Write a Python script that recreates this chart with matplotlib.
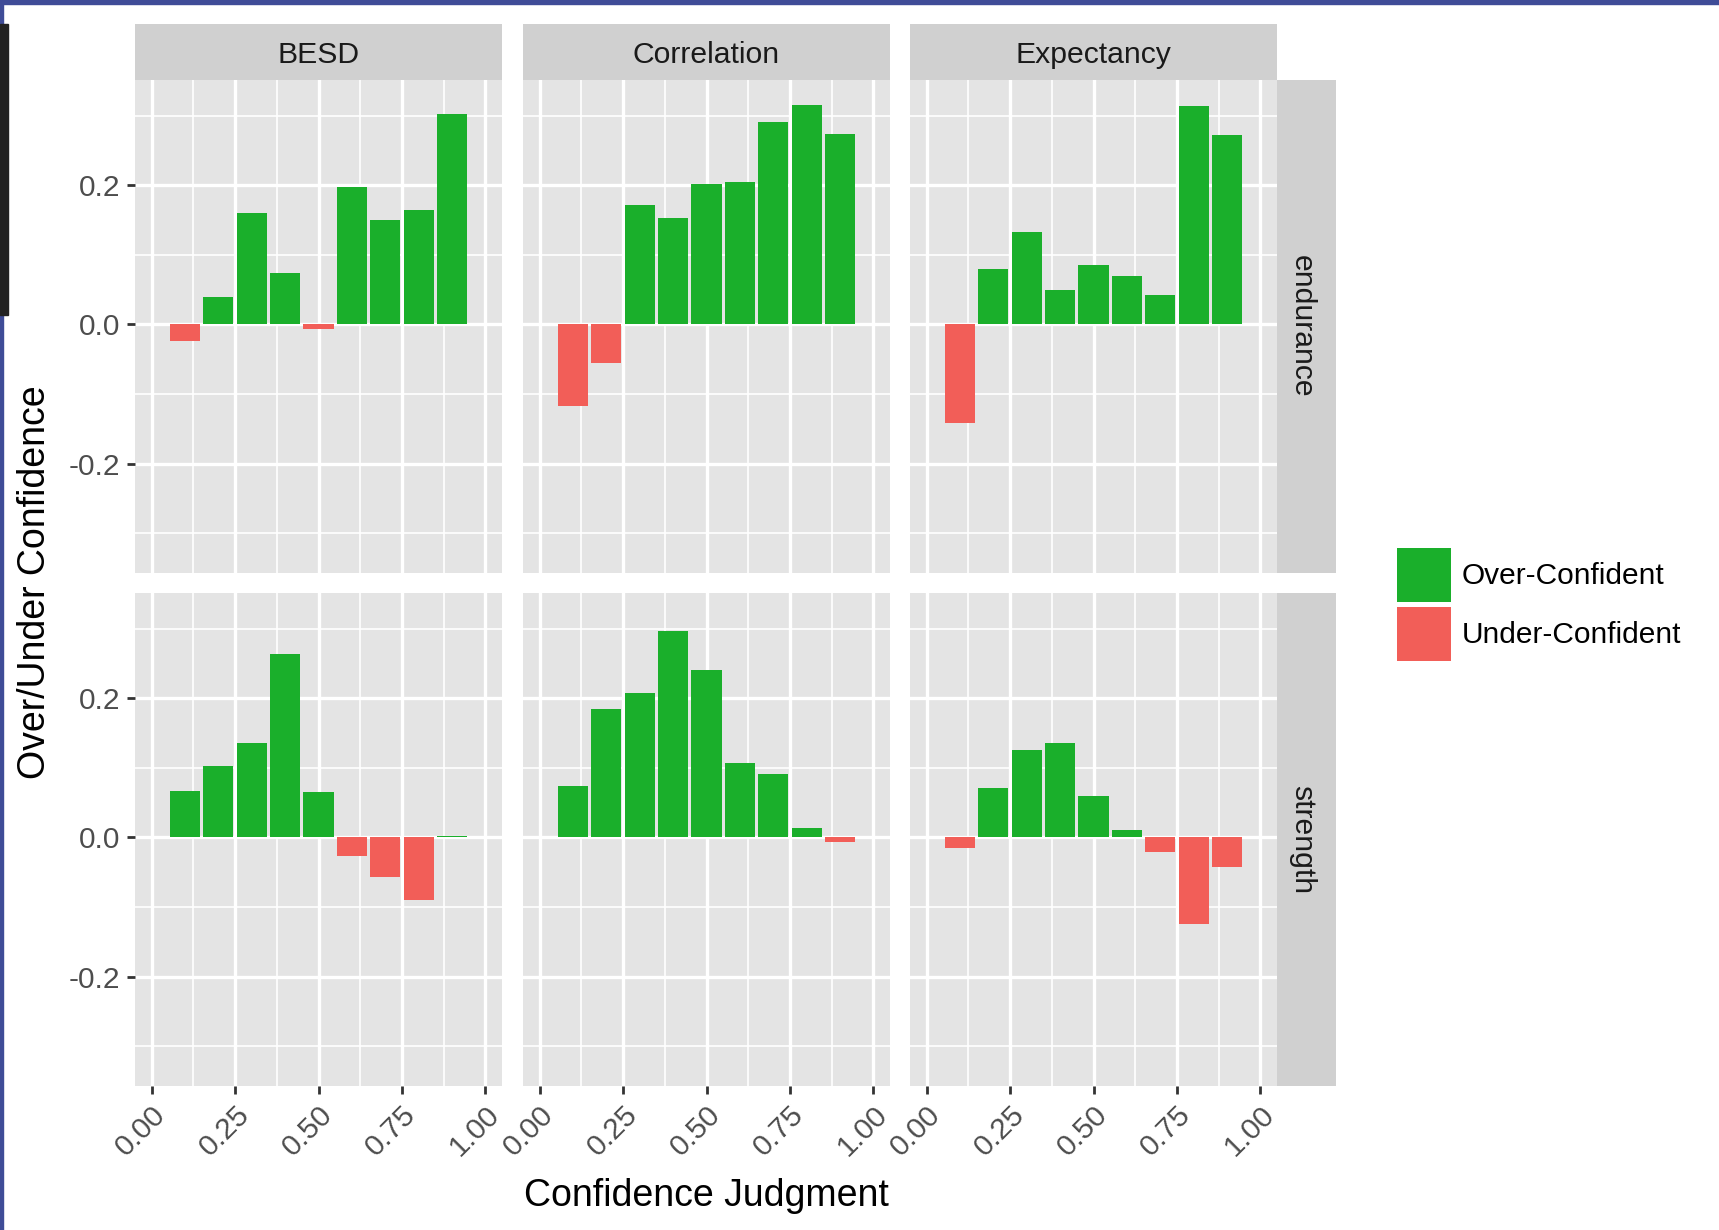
import matplotlib.pyplot as plt
from matplotlib.patches import Patch, Rectangle

plt.rcParams['font.family'] = ['Liberation Sans', 'DejaVu Sans']

bins = [0.1, 0.2, 0.3, 0.4, 0.5, 0.6, 0.7, 0.8, 0.9]
methods = ['BESD', 'Correlation', 'Expectancy']
tasks = ['endurance', 'strength']

besd_endurance = [-0.024, 0.040, 0.160, 0.074, -0.006, 0.198, 0.150, 0.165, 0.302]
corr_endurance = [-0.117, -0.055, 0.172, 0.153, 0.202, 0.205, 0.290, 0.315, 0.274]
expt_endurance = [-0.141, 0.080, 0.133, 0.049, 0.086, 0.069, 0.042, 0.314, 0.272]
besd_strength = [0.066, 0.103, 0.136, 0.263, 0.065, -0.027, -0.057, -0.090, 0.002]
corr_strength = [0.074, 0.185, 0.207, 0.297, 0.240, 0.107, 0.091, 0.014, -0.006]
expt_strength = [-0.015, 0.071, 0.126, 0.135, 0.059, 0.011, -0.021, -0.124, -0.042]

values = {
    ('endurance', 'BESD'): besd_endurance,
    ('endurance', 'Correlation'): corr_endurance,
    ('endurance', 'Expectancy'): expt_endurance,
    ('strength', 'BESD'): besd_strength,
    ('strength', 'Correlation'): corr_strength,
    ('strength', 'Expectancy'): expt_strength,
}

green = '#1AAF2B'
red = '#F25E58'
panel_bg = '#E4E4E4'
strip_bg = '#D0D0D0'
W, H = 1719, 1230

fig = plt.figure(figsize=(W / 100, H / 100), dpi=100)

# screenshot frame remnants
fig.patches.append(Rectangle((0, 1 - 4 / H), 1, 4 / H, transform=fig.transFigure, color='#3F4C97'))
fig.patches.append(Rectangle((0, 0), 3 / W, 1, transform=fig.transFigure, color='#3F4C97'))
fig.patches.append(Rectangle((0, 1 - 315 / H), 8 / W, 291 / H, transform=fig.transFigure, color='#222222'))

col_left = [135, 523, 910]
col_w = 367
row_top = [80, 593]
row_h = 493

for r, task in enumerate(tasks):
    for c, m in enumerate(methods):
        ax = fig.add_axes([col_left[c] / W, 1 - (row_top[r] + row_h) / H, col_w / W, row_h / H])
        ax.set_facecolor(panel_bg)
        vals = values[(task, m)]
        cols = [green if v >= 0 else red for v in vals]
        ax.bar(bins, vals, width=0.09, color=cols, zorder=3)
        ax.set_xlim(-0.05, 1.05)
        ax.set_ylim(-0.357, 0.351)
        ax.set_xticks([0, 0.25, 0.5, 0.75, 1.0])
        ax.set_xticks([0.125, 0.375, 0.625, 0.875], minor=True)
        ax.set_yticks([-0.2, 0.0, 0.2])
        ax.set_yticks([-0.3, -0.1, 0.1, 0.3], minor=True)
        ax.grid(which='major', color='white', lw=2.4, zorder=1)
        ax.grid(which='minor', color='white', lw=1.2, zorder=1)
        ax.set_axisbelow(True)
        for s in ax.spines.values():
            s.set_visible(False)
        ax.tick_params(which='minor', length=0)
        ax.tick_params(which='major', length=5.5, width=2, color='#333333',
                       labelsize=21.5, labelcolor='#4D4D4D', pad=5)
        if c == 0:
            ax.set_yticklabels(['-0.2', '0.0', '0.2'])
        else:
            ax.tick_params(axis='y', left=False, labelleft=False)
        if r == 1:
            ax.set_xticklabels(['0.00', '0.25', '0.50', '0.75', '1.00'],
                               rotation=45, ha='right', va='top', rotation_mode='anchor')
        else:
            ax.tick_params(axis='x', bottom=False, labelbottom=False)

        if r == 0:
            sax = fig.add_axes([col_left[c] / W, 1 - row_top[0] / H, col_w / W, 56 / H])
            sax.set_facecolor(strip_bg)
            sax.set_xticks([])
            sax.set_yticks([])
            for s in sax.spines.values():
                s.set_visible(False)
            sax.text(0.5, 0.45, m, ha='center', va='center', fontsize=21.7, color='#1A1A1A',
                     transform=sax.transAxes)
    rax = fig.add_axes([1277 / W, 1 - (row_top[r] + row_h) / H, 59 / W, row_h / H])
    rax.set_facecolor(strip_bg)
    rax.set_xticks([])
    rax.set_yticks([])
    for s in rax.spines.values():
        s.set_visible(False)
    rax.text(0.42, 0.5, task, ha='center', va='center', rotation=-90, fontsize=21.7,
             color='#1A1A1A', transform=rax.transAxes)

fig.text(706 / W, 1 - 1196 / H, 'Confidence Judgment', ha='center', va='center', fontsize=27)
fig.text(35 / W, 1 - 582 / H, 'Over/Under Confidence', ha='center', va='center',
         rotation=90, fontsize=27)

handles = [Patch(facecolor=green, label='Over-Confident'),
           Patch(facecolor=red, label='Under-Confident')]
fig.legend(handles=handles, loc='upper left', bbox_to_anchor=(1397 / W, 1 - 548 / H),
           frameon=False, fontsize=21.5, handlelength=1.8, handleheight=2.4,
           labelspacing=0.17, handletextpad=0.37, borderpad=0, borderaxespad=0)

fig.savefig('out.png', dpi=100, facecolor='white')
